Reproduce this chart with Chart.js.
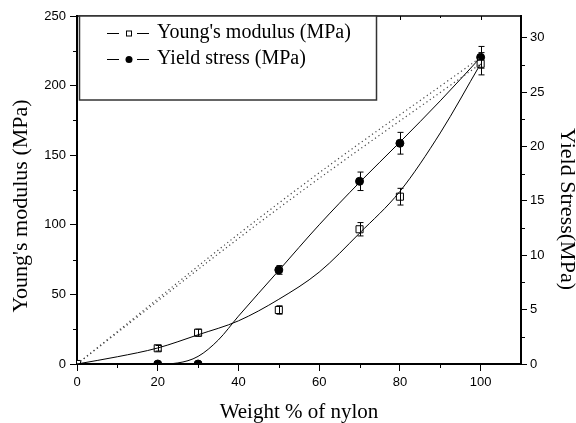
<!DOCTYPE html>
<html>
<head>
<meta charset="utf-8">
<script src="https://cdn.jsdelivr.net/npm/chart.js@4.4.1/dist/chart.umd.min.js"></script>
<style>
  html, body { margin: 0; padding: 0; background: #fff; }
  #wrap { width: 576px; height: 423px; }
</style>
</head>
<body>
<div id="wrap"><canvas id="chart"></canvas></div>
<script>
// measured points
const nylon = [0, 20, 30, 50, 70, 80, 100];
const youngModulus = [0, 11.3, 22.5, 38.8, 96.8, 120.2, 215.7];
const youngErr = [0, 2, 2.5, 3, 4.8, 6, 8];
const yieldStress = [0, 0, 0, 8.65, 16.8, 20.3, 28.2];
const yieldErr = [0, 0, 0, 0.4, 0.85, 1.0, 1.0];

// fitted curves
const youngFitX = [0, 10, 20, 30, 40, 50, 60, 70, 80, 90, 100];
const youngFit = [0, 5.2, 11.5, 21, 31, 46.5, 66, 94, 124, 166, 215.7];
const yieldFitX = [0, 10, 20, 25, 30, 35, 40, 50, 60, 70, 80, 90, 100];
const yieldFit = [0, 0, 0, 0.1, 0.7, 2.2, 4.4, 8.6, 12.8, 16.7, 20.4, 24.2, 28.2];

// dotted mixing lines
const mixX = [0, 50, 100];
const youngMix = [0, 112, 215.7];
const yieldMix = [0, 14.8, 28.2];

// ticks
const xTicks = [0, 20, 40, 60, 80, 100];
const xMinor = [10, 30, 50, 70, 90];
const leftTicks = [0, 50, 100, 150, 200, 250];
const leftMinor = [25, 75, 125, 175, 225];
const rightTicks = [0, 5, 10, 15, 20, 25, 30];
const rightMinor = [2.5, 7.5, 12.5, 17.5, 22.5, 27.5];

const leftTitle = "Young's modulus (MPa)";
const rightTitle = "Yield Stress(MPa)";
const legendLabels = ["Young's modulus (MPa)", "Yield stress (MPa)"];

const SERIF = '"Liberation Serif", "Times New Roman", serif';
const SANS = '"Liberation Sans", Arial, sans-serif';

const pts = (xs, ys) => xs.map((x, i) => ({ x: x, y: ys[i] }));

// error bars
const errorBars = {
  id: "errorBars",
  afterDatasetsDraw(chart) {
    const ctx = chart.ctx;
    const x = chart.scales.x;
    ctx.save();
    ctx.strokeStyle = "#000";
    ctx.lineWidth = 1;
    [[youngModulus, youngErr, chart.scales.y], [yieldStress, yieldErr, chart.scales.y1]].forEach(function (s) {
      const vals = s[0], errs = s[1], sc = s[2];
      nylon.forEach(function (n, i) {
        if (!errs[i]) return;
        const px = Math.round(x.getPixelForValue(n)) + 0.5;
        const t = sc.getPixelForValue(vals[i] + errs[i]);
        const b = sc.getPixelForValue(vals[i] - errs[i]);
        ctx.beginPath();
        ctx.moveTo(px, t); ctx.lineTo(px, b);
        ctx.moveTo(px - 3, t); ctx.lineTo(px + 3, t);
        ctx.moveTo(px - 3, b); ctx.lineTo(px + 3, b);
        ctx.stroke();
      });
    });
    ctx.restore();
  }
};

// frame, minor ticks, y titles and the boxed legend
const decorations = {
  id: "decorations",
  afterDraw(chart) {
    const ctx = chart.ctx;
    const a = chart.chartArea;
    const x = chart.scales.x, y = chart.scales.y, y1 = chart.scales.y1;
    ctx.save();
    ctx.strokeStyle = "#000";

    // top border
    ctx.lineWidth = 1.5;
    ctx.beginPath();
    ctx.moveTo(a.left, a.top); ctx.lineTo(a.right, a.top);
    ctx.stroke();

    ctx.lineWidth = 1;
    ctx.beginPath();
    xMinor.forEach(function (v) {
      const px = Math.round(x.getPixelForValue(v)) + 0.5;
      ctx.moveTo(px, a.bottom); ctx.lineTo(px, a.bottom + 4);
      ctx.moveTo(px, a.top); ctx.lineTo(px, a.top + 2);
    });
    xTicks.forEach(function (v) {
      const px = Math.round(x.getPixelForValue(v)) + 0.5;
      ctx.moveTo(px, a.top); ctx.lineTo(px, a.top + 4);
    });
    leftMinor.forEach(function (v) {
      const py = Math.round(y.getPixelForValue(v)) + 0.5;
      ctx.moveTo(a.left, py); ctx.lineTo(a.left - 4, py);
    });
    rightMinor.forEach(function (v) {
      const py = Math.round(y1.getPixelForValue(v)) + 0.5;
      ctx.moveTo(a.right, py); ctx.lineTo(a.right + 4, py);
    });
    ctx.stroke();

    // y axis titles
    ctx.fillStyle = "#000";
    ctx.font = "22px " + SERIF;
    ctx.textAlign = "center";
    ctx.textBaseline = "alphabetic";
    ctx.save();
    ctx.translate(27, 206);
    ctx.rotate(-Math.PI / 2);
    ctx.fillText(leftTitle, 0, 0);
    ctx.restore();
    ctx.save();
    ctx.translate(561, 209);
    ctx.rotate(Math.PI / 2);
    ctx.fillText(rightTitle, 0, 0);
    ctx.restore();

    // legend box
    const bx = 79.5, by = a.top, bw = 297, bh = 84;
    ctx.fillStyle = "#fff";
    ctx.fillRect(bx, by, bw, bh);
    ctx.strokeStyle = "#333";
    ctx.lineWidth = 1.5;
    ctx.strokeRect(bx, by, bw, bh);
    ctx.strokeStyle = "#000";
    ctx.lineWidth = 1;
    const rows = [33, 59];
    rows.forEach(function (ry, i) {
      ctx.beginPath();
      ctx.moveTo(107, ry + 0.5); ctx.lineTo(119, ry + 0.5);
      ctx.moveTo(137, ry + 0.5); ctx.lineTo(149, ry + 0.5);
      ctx.stroke();
      if (i === 0) {
        ctx.fillStyle = "#fff";
        ctx.fillRect(126.5, ry - 2, 5, 5);
        ctx.strokeRect(126.5, ry - 2, 5, 5);
      } else {
        ctx.fillStyle = "#000";
        ctx.beginPath();
        ctx.arc(129, ry + 0.5, 3.5, 0, Math.PI * 2);
        ctx.fill();
      }
      ctx.fillStyle = "#000";
      ctx.font = "20px " + SERIF;
      ctx.textAlign = "left";
      ctx.textBaseline = "middle";
      ctx.fillText(legendLabels[i], 157, ry);
    });
    ctx.restore();
  }
};

const tickFont = { family: SANS, size: 13 };

new Chart(document.getElementById("chart"), {
  type: "line",
  data: {
    datasets: [
      {
        data: pts(mixX, youngMix),
        yAxisID: "y",
        borderColor: "#444",
        borderWidth: 1.2,
        borderDash: [1.2, 3],
        tension: 0.4,
        pointRadius: 0,
      },
      {
        data: pts(mixX, yieldMix),
        yAxisID: "y1",
        borderColor: "#444",
        borderWidth: 1.2,
        borderDash: [1.2, 3],
        tension: 0.4,
        pointRadius: 0,
      },
      {
        data: pts(youngFitX, youngFit),
        yAxisID: "y",
        borderColor: "#000",
        borderWidth: 1,
        cubicInterpolationMode: "monotone",
        pointRadius: 0,
      },
      {
        data: pts(yieldFitX, yieldFit),
        yAxisID: "y1",
        borderColor: "#000",
        borderWidth: 1,
        cubicInterpolationMode: "monotone",
        pointRadius: 0,
      },
      {
        data: pts(nylon, youngModulus),
        yAxisID: "y",
        showLine: false,
        pointStyle: "rect",
        pointRadius: 5,
        pointBackgroundColor: "#fff",
        pointBorderColor: "#000",
        pointBorderWidth: 1,
      },
      {
        data: pts(nylon, yieldStress),
        yAxisID: "y1",
        showLine: false,
        pointStyle: "circle",
        pointRadius: 4,
        pointBackgroundColor: "#000",
        pointBorderColor: "#000",
        pointBorderWidth: 1,
      },
    ],
  },
  options: {
    responsive: true,
    maintainAspectRatio: false,
    animation: false,
    layout: { padding: { top: 16, left: 0, right: 0, bottom: 0 } },
    plugins: {
      legend: { display: false },
      tooltip: { enabled: false },
    },
    scales: {
      x: {
        type: "linear",
        min: 0,
        max: 110,
        afterBuildTicks: (s) => { s.ticks = xTicks.map((v) => ({ value: v })); },
        afterFit: (s) => { s.height = 59; },
        ticks: { font: tickFont, color: "#000", padding: 4, maxRotation: 0 },
        grid: { drawOnChartArea: false, tickLength: 7, tickColor: "#000", tickWidth: 1 },
        border: { display: true, color: "#000", width: 2 },
        title: {
          display: true,
          text: "Weight % of nylon",
          color: "#000",
          font: { family: SERIF, size: 21, lineHeight: 1 },
          padding: { top: 0, bottom: 0 },
        },
      },
      y: {
        position: "left",
        min: 0,
        max: 250,
        afterBuildTicks: (s) => { s.ticks = leftTicks.map((v) => ({ value: v })); },
        afterFit: (s) => { s.width = 77; },
        ticks: { font: tickFont, color: "#000", padding: 4 },
        grid: { drawOnChartArea: false, tickLength: 7, tickColor: "#000", tickWidth: 1 },
        border: { display: true, color: "#000", width: 2 },
      },
      y1: {
        position: "right",
        min: 0,
        max: 32,
        afterBuildTicks: (s) => { s.ticks = rightTicks.map((v) => ({ value: v })); },
        afterFit: (s) => { s.width = 55; },
        ticks: { font: tickFont, color: "#000", padding: 3 },
        grid: { drawOnChartArea: false, tickLength: 6, tickColor: "#000", tickWidth: 1 },
        border: { display: true, color: "#000", width: 2 },
      },
    },
  },
  plugins: [errorBars, decorations],
});
</script>
</body>
</html>
